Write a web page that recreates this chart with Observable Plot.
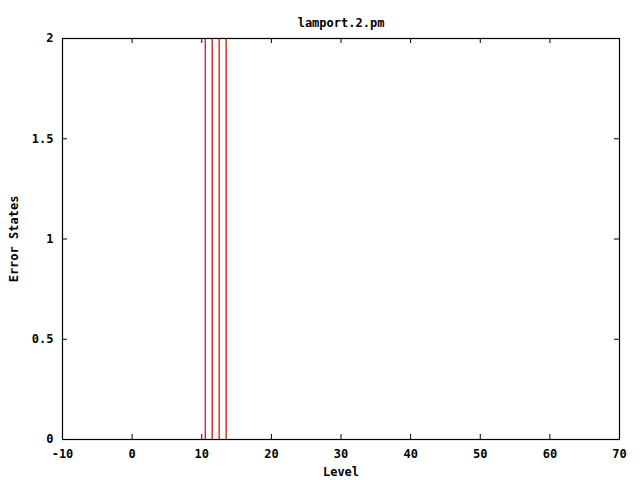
<!DOCTYPE html>
<html>
<head>
<meta charset="utf-8">
<script src="https://cdn.jsdelivr.net/npm/d3@7"></script>
<script src="https://cdn.jsdelivr.net/npm/@observablehq/plot@0.6"></script>
<style>
  html, body { margin: 0; padding: 0; background: #fff; }
</style>
</head>
<body>
<div id="chart"></div>
<script>
const title = "lamport.2.pm";
const xLabel = "Level";
const yLabel = "Error States";
const levels = [10.5, 11.5, 12.5, 13.5];
const errorStates = [2, 2, 2, 2];
const xTicks = [-10, 0, 10, 20, 30, 40, 50, 60, 70];
const yTicks = [0, 0.5, 1, 1.5, 2];

const W = 640, H = 480;
const mL = 62, mR = 21, mT = 38, mB = 41;
const pw = W - mL - mR, ph = H - mT - mB;
const tl = 5;

const font = "'DejaVu Sans Mono', monospace";

const chart = Plot.plot({
  width: W,
  height: H,
  marginLeft: mL,
  marginRight: mR,
  marginTop: mT,
  marginBottom: mB,
  style: { fontFamily: font, fontSize: "12px", fontWeight: "bold", color: "#000", background: "#fff", overflow: "visible" },
  x: { domain: [-10, 70] },
  y: { domain: [0, 2] },
  marks: [
    Plot.ruleX(levels, { x: d => d, y1: 0, y2: (d, i) => errorStates[i], stroke: "#cc0000", strokeWidth: 1.2 }),
    Plot.tickX(xTicks, { x: d => d, stroke: "#000", insetTop: ph - tl }),
    Plot.tickX(xTicks, { x: d => d, stroke: "#000", insetBottom: ph - tl }),
    Plot.tickY(yTicks, { y: d => d, stroke: "#000", insetRight: pw - tl }),
    Plot.tickY(yTicks, { y: d => d, stroke: "#000", insetLeft: pw - tl }),
    Plot.frame({ stroke: "#000", strokeWidth: 1.2 }),
    Plot.axisX(xTicks, { tickSize: 0, tickPadding: 10, label: null, tickFormat: d => String(d), fontWeight: "bold" }),
    Plot.axisY(yTicks, { tickSize: 0, tickPadding: 9, label: null, tickFormat: d => String(d), fontWeight: "bold" }),
    Plot.text([title], { frameAnchor: "top", dy: -20, fontWeight: "bold", fontSize: 12 }),
    Plot.text([xLabel], { frameAnchor: "bottom", dy: 36, fontWeight: "bold", fontSize: 12 }),
    Plot.text([yLabel], { frameAnchor: "left", textAnchor: "middle", dx: -48, rotate: -90, fontWeight: "bold", fontSize: 12 })
  ]
});
document.getElementById("chart").appendChild(chart);
</script>
</body>
</html>
